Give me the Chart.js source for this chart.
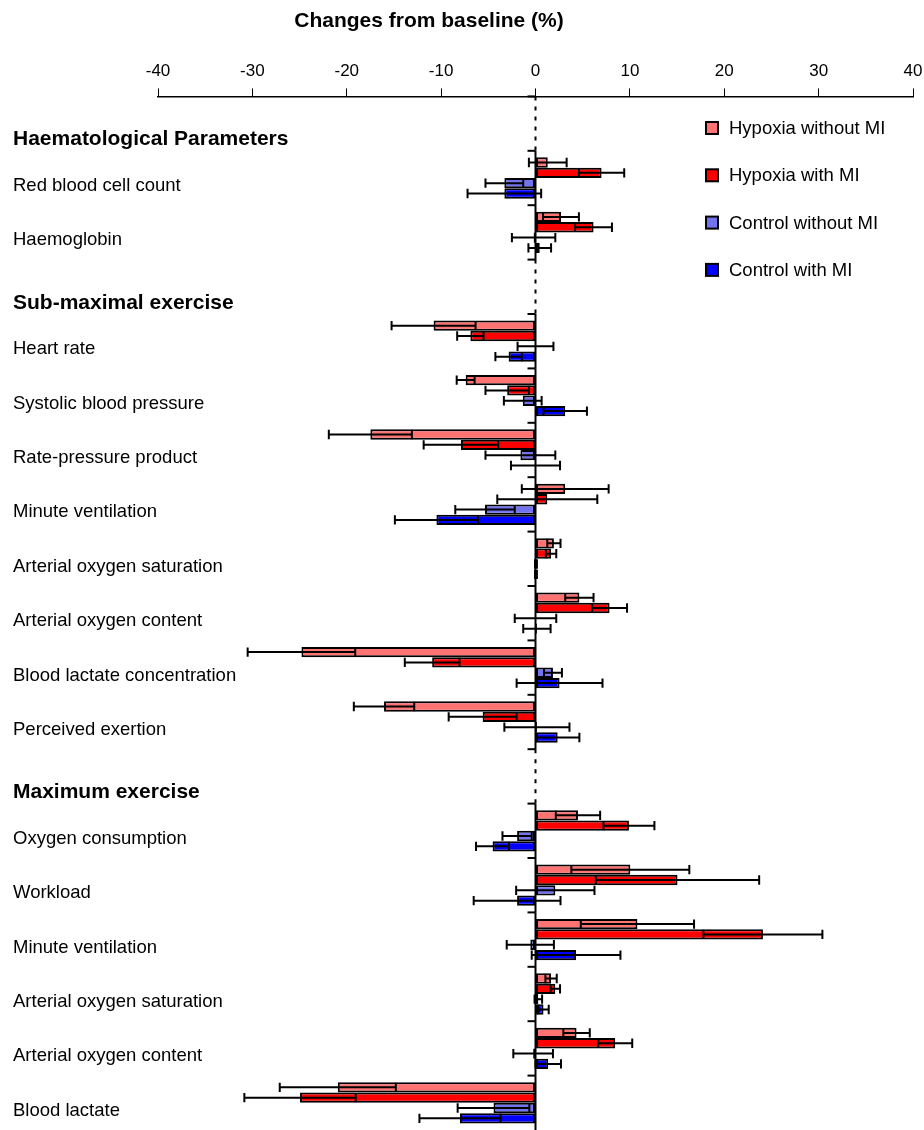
<!DOCTYPE html>
<html>
<head>
<meta charset="utf-8">
<script src="https://cdn.jsdelivr.net/npm/chart.js"></script>
<style>
  html, body { margin: 0; padding: 0; background: #fff; overflow: hidden; }
  #wrap { width: 924px; height: 1130px; position: relative; }
</style>
</head>
<body>
<div id="wrap"><canvas id="fig"></canvas></div>
<script>
// rows of the figure, section headers included (they carry no bars)
var rowLabels = [
    "Haematological Parameters",
    "Red blood cell count",
    "Haemoglobin",
    "Sub-maximal exercise",
    "Heart rate",
    "Systolic blood pressure",
    "Rate-pressure product",
    "Minute ventilation",
    "Arterial oxygen saturation",
    "Arterial oxygen content",
    "Blood lactate concentration",
    "Perceived exertion",
    "Maximum exercise",
    "Oxygen consumption",
    "Workload",
    "Minute ventilation",
    "Arterial oxygen saturation",
    "Arterial oxygen content",
    "Blood lactate"
];
var headerRows = [0, 3, 12];

var seriesNames = ["Hypoxia without MI", "Hypoxia with MI", "Control without MI", "Control with MI"];
var seriesColors = ["#ff7373", "#ff0000", "#7373f0", "#0000ff"];

// mean change (%) and error for each row
var hypoNoMI    = [null, 1.3, 2.7, null, -10.8, -7.4, -17.5, 3.15, 1.95, 4.65, -24.8, -16.05, null, 4.5, 10.05, 10.8, 1.65, 4.35, -20.95];
var hypoNoMIErr = [null, 2.0, 1.9, null, 4.45, 0.95, 4.4, 4.6, 0.7, 1.5, 5.7, 3.2, null, 2.35, 6.25, 6.0, 0.6, 1.4, 6.15];
var hypoMI      = [null, 7.0, 6.15, null, -6.9, -3.0, -7.9, 1.25, 1.65, 7.85, -10.95, -5.6, null, 9.9, 15.05, 24.1, 2.1, 8.45, -24.95];
var hypoMIErr   = [null, 2.4, 1.95, null, 1.4, 2.3, 3.95, 5.3, 0.55, 1.85, 2.9, 3.6, null, 2.7, 8.65, 6.3, 0.5, 1.8, 5.9];
var ctrlNoMI    = [null, -3.3, -0.2, null, 0, -1.35, -1.6, -5.35, 0.05, 0, 1.85, 0.15, null, -1.95, 2.1, -0.55, 0.3, -0.25, -4.45];
var ctrlNoMIErr = [null, 2.0, 2.3, null, 1.9, 2.0, 3.7, 3.15, 0.1, 2.2, 0.95, 3.45, null, 1.55, 4.15, 2.5, 0.4, 2.1, 3.8];
var ctrlMI      = [null, -3.3, 0.45, null, -2.85, 3.15, 0, -10.5, 0.05, 0.15, 2.55, 2.35, null, -4.55, -1.95, 4.3, 0.85, 1.35, -8.0];
var ctrlMIErr   = [null, 3.9, 1.2, null, 1.4, 2.3, 2.6, 4.4, 0.1, 1.45, 4.55, 2.3, null, 1.75, 4.6, 4.7, 0.55, 1.35, 4.3];

var xTitle = "Changes from baseline (%)";

var FONT = "'Liberation Sans', Arial, sans-serif";
Chart.defaults.font.family = FONT;
Chart.defaults.color = "#000";

function makeSet(i, values, errs) {
    return {
        label: seriesNames[i],
        data: values,
        errors: errs,
        backgroundColor: seriesColors[i],
        borderColor: "#000",
        borderWidth: 2,
        borderSkipped: false,
        barPercentage: 1.0,
        categoryPercentage: 0.76
    };
}

// error bars drawn on top of each bar
var errorBars = {
    id: "errorBars",
    afterDatasetsDraw: function (chart) {
        var ctx = chart.ctx;
        var xs = chart.scales.x;
        ctx.save();
        ctx.strokeStyle = "#000";
        ctx.lineWidth = 2;
        chart.data.datasets.forEach(function (ds, di) {
            var meta = chart.getDatasetMeta(di);
            meta.data.forEach(function (bar, i) {
                var m = ds.data[i];
                if (m === null || m === undefined) return;
                var e = ds.errors[i];
                var lo = xs.getPixelForValue(m - e);
                var hi = xs.getPixelForValue(m + e);
                var h = bar.height / 2 - 0.5;
                ctx.beginPath();
                ctx.moveTo(lo, bar.y); ctx.lineTo(hi, bar.y);
                ctx.moveTo(lo, bar.y - h); ctx.lineTo(lo, bar.y + h);
                ctx.moveTo(hi, bar.y - h); ctx.lineTo(hi, bar.y + h);
                ctx.stroke();
            });
        });
        ctx.restore();
    }
};

// zero line, row separators, row labels, legend and title
var decor = {
    id: "decor",
    afterDraw: function (chart) {
        var ctx = chart.ctx;
        var xs = chart.scales.x, ys = chart.scales.y;
        var x0 = xs.getPixelForValue(0);
        ctx.save();
        ctx.strokeStyle = "#000";
        ctx.lineWidth = 2;
        for (var i = 0; i < rowLabels.length; i++) {
            var top = ys.getPixelForValue(i - 0.5);
            var bot = ys.getPixelForValue(i + 0.5);
            ctx.setLineDash(headerRows.indexOf(i) >= 0 ? [4, 6] : []);
            ctx.beginPath();
            ctx.moveTo(x0, top); ctx.lineTo(x0, bot);
            ctx.stroke();
            ctx.setLineDash([]);
            ctx.beginPath();
            ctx.moveTo(x0 - 8, top); ctx.lineTo(x0, top);
            ctx.stroke();
        }

        // row labels
        ctx.textAlign = "left";
        ctx.textBaseline = "middle";
        rowLabels.forEach(function (lab, i) {
            var head = headerRows.indexOf(i) >= 0;
            ctx.font = (head ? "bold 21px " : "18.5px ") + FONT;
            ctx.fillStyle = "#000";
            ctx.fillText(lab, 13, ys.getPixelForValue(i) + (head ? 16 : 8));
        });

        // legend
        ctx.font = "18.5px " + FONT;
        seriesNames.forEach(function (name, i) {
            var cy = 128 + i * 47.3;
            ctx.fillStyle = seriesColors[i];
            ctx.fillRect(706, cy - 6, 12, 12);
            ctx.lineWidth = 2;
            ctx.strokeRect(706, cy - 6, 12, 12);
            ctx.fillStyle = "#000";
            ctx.fillText(name, 729, cy + 1);
        });

        // axis title
        ctx.font = "bold 21px " + FONT;
        ctx.textAlign = "center";
        ctx.fillText(xTitle, 429, 21);
        ctx.restore();
    }
};

new Chart("fig", {
    type: "bar",
    data: {
        labels: rowLabels,
        datasets: [
            makeSet(0, hypoNoMI, hypoNoMIErr),
            makeSet(1, hypoMI, hypoMIErr),
            makeSet(2, ctrlNoMI, ctrlNoMIErr),
            makeSet(3, ctrlMI, ctrlMIErr)
        ]
    },
    options: {
        indexAxis: "y",
        responsive: true,
        maintainAspectRatio: false,
        animation: false,
        layout: {
            padding: { left: 158, right: 11, top: 54, bottom: 0 }
        },
        scales: {
            x: {
                position: "top",
                min: -40,
                max: 40,
                ticks: { stepSize: 10, font: { size: 17 }, color: "#000", padding: 7 },
                grid: { drawOnChartArea: false, drawTicks: true, tickLength: 8, color: "#000", lineWidth: 1 },
                border: { display: true, color: "#000", width: 1.5 },
                afterFit: function (scale) {
                    // keep the plot edges where the layout padding puts them
                    scale.paddingLeft = 0;
                    scale.paddingRight = 0;
                }
            },
            y: {
                type: "category",
                display: false,
                offset: true
            }
        },
        plugins: {
            legend: { display: false },
            tooltip: { enabled: false }
        }
    },
    plugins: [errorBars, decor]
});
</script>
</body>
</html>
